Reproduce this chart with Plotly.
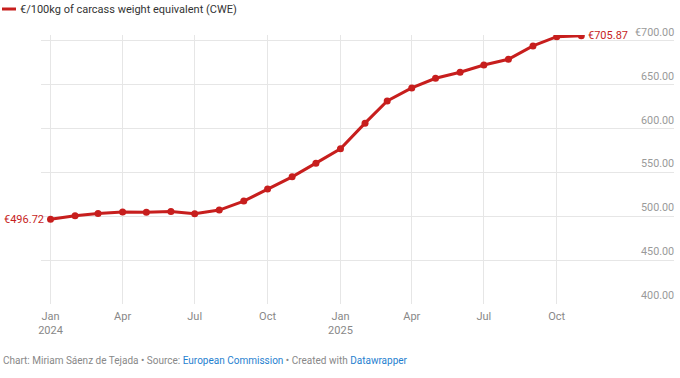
import plotly.graph_objects as go

months = ["2024-01-01","2024-02-01","2024-03-01","2024-04-01","2024-05-01","2024-06-01",
          "2024-07-01","2024-08-01","2024-09-01","2024-10-01","2024-11-01","2024-12-01",
          "2025-01-01","2025-02-01","2025-03-01","2025-04-01","2025-05-01","2025-06-01",
          "2025-07-01","2025-08-01","2025-09-01","2025-10-01","2025-11-01"]
prices = [496.72, 500.6, 503.2, 504.8, 504.6, 505.5,
          502.8, 507.1, 517.3, 531.0, 545.0, 560.6,
          576.9, 606.2, 631.5, 646.4, 657.4, 664.2,
          672.5, 679.0, 694.2, 704.8, 705.87]

x_tickvals = ["2024-01-01","2024-04-01","2024-07-01","2024-10-01",
              "2025-01-01","2025-04-01","2025-07-01","2025-10-01"]
x_ticktext = ["Jan<br>2024","Apr","Jul","Oct","Jan<br>2025","Apr","Jul","Oct"]
y_tickvals = [400, 450, 500, 550, 600, 650, 700]
y_ticktext = ["400.00","450.00","500.00","550.00","600.00","650.00","€700.00"]
series_name = "€/100kg of carcass weight equivalent (CWE)"

RED = "#c71e1d"
FONT = "Roboto"

fig = go.Figure()
fig.add_trace(go.Scatter(
    x=months, y=prices, mode="lines+markers",
    line=dict(color=RED, width=3),
    marker=dict(color=RED, size=7),
    showlegend=False, hoverinfo="skip",
))

ML, MR, MT, MB = 41, 6, 35, 74
W, H = 680, 378
pw, ph = W - ML - MR, H - MT - MB

def px_x(p):
    return (p - ML) / pw

def px_y(p):
    return (H - MB - p) / ph

fig.update_layout(
    width=W, height=H,
    margin=dict(l=ML, r=MR, t=MT, b=MB, autoexpand=False),
    paper_bgcolor="white", plot_bgcolor="white",
    font=dict(family=FONT, color="#888888", size=11),
    xaxis=dict(
        type="date", range=["2023-12-20", "2026-02-26"],
        tickvals=x_tickvals, ticktext=x_ticktext,
        showgrid=True, gridcolor="#e6e6e6", gridwidth=1,
        showline=False, zeroline=False, ticks="",
        ticklabelstandoff=4,
        tickfont=dict(size=11, color="#888888"),
        automargin=False, fixedrange=True,
    ),
    yaxis=dict(
        range=[400, 706.7], side="right",
        tickvals=y_tickvals, showticklabels=False,
        showgrid=True, gridcolor="#e6e6e6", gridwidth=1,
        showline=False, zeroline=False, ticks="",
        automargin=False, fixedrange=True,
    ),
)

# y tick labels sitting above their gridlines, right-aligned
for v, t in zip(y_tickvals, y_ticktext):
    fig.add_annotation(text=t, xref="paper", yref="y", x=1, y=v,
                       xanchor="right", yanchor="bottom", showarrow=False,
                       xshift=2, yshift=0, font=dict(size=10.8, color="#9a9a9a", family=FONT))

# legend (drawn manually to match short line key)
fig.add_shape(type="line", xref="paper", yref="paper",
              x0=px_x(2), x1=px_x(16), y0=px_y(9), y1=px_y(9),
              line=dict(color=RED, width=3))
fig.add_annotation(text=series_name, xref="paper", yref="paper",
                   x=px_x(18), y=px_y(9.5), xanchor="left", yanchor="middle",
                   showarrow=False, font=dict(size=11, color="#333333", family=FONT))

# end labels
fig.add_annotation(text="€%.2f" % prices[0], x=months[0], y=prices[0],
                   xanchor="right", yanchor="middle", xshift=-5, showarrow=False,
                   font=dict(size=11, color=RED, family=FONT))
fig.add_annotation(text="€%.2f" % prices[-1], x=months[-1], y=prices[-1],
                   xanchor="left", yanchor="middle", xshift=5, showarrow=False,
                   font=dict(size=11, color=RED, family=FONT))

# footer
footer = ("Chart: Miriam Sáenz de Tejada • Source: "
          "<span style='color:#1f7fcf'>European Commission</span>"
          " • Created with <span style='color:#1f7fcf'>Datawrapper</span>")
fig.add_annotation(text=footer, xref="paper", yref="paper",
                   x=px_x(1), y=px_y(360.5), xanchor="left", yanchor="middle",
                   showarrow=False, font=dict(size=10, color="#888888", family=FONT))

fig.write_html("out.html", config={"displayModeBar": False},
               post_script="document.body.style.margin='0';document.body.style.overflow='hidden';")
